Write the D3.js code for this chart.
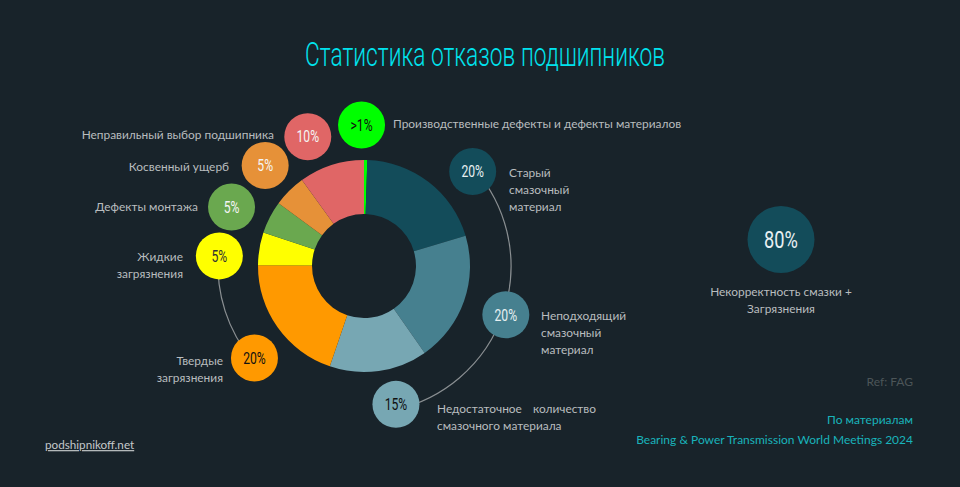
<!DOCTYPE html>
<html><head><meta charset="utf-8">
<script src="https://cdn.jsdelivr.net/npm/d3@7"></script>
<style>
html,body{margin:0;padding:0;background:#18232a;}
svg{display:block;}
</style></head>
<body>
<svg id="chart" width="960" height="487"></svg>
<script>
// ---- data ----
const categories = [
  "Производственные дефекты и дефекты материалов",
  "Старый смазочный материал",
  "Неподходящий смазочный материал",
  "Недостаточное количество смазочного материала",
  "Твердые загрязнения",
  "Жидкие загрязнения",
  "Дефекты монтажа",
  "Косвенный ущерб",
  "Неправильный выбор подшипника"
];
const values = [0.5, 20, 20, 15, 20, 5, 5, 5, 10];
const valueLabels = [">1%", "20%", "20%", "15%", "20%", "5%", "5%", "5%", "10%"];
const totalLabel = "80%";
const totalText = ["Некорректность смазки +", "Загрязнения"];

// ---- styles / layout ----
const colors = ["#00ff00", "#134c5a", "#46808f", "#77a7b3", "#ff9900", "#ffff00", "#6aa84f", "#e69138", "#e06666"];
const bubbleText = ["#111", "#e8f0f2", "#e8f0f2", "#111", "#111", "#333", "#f4f4f4", "#f4f4f4", "#f4f4f4"];
const bubbleAngle = [359, 49, 109, 167, 230, 274, 294, 315.5, 336.5];
const bubbleDist = [141, 144, 150, 142, 143, 145, 145, 141, 141];
// label blocks: [x, y of first line, anchor, lines]
const labelLayout = [
  [393, 124, "start", ["Производственные дефекты и дефекты материалов"]],
  [509, 173, "start", ["Старый", "смазочный", "материал"]],
  [541, 316, "start", ["Неподходящий", "смазочный", "материал"]],
  [437, 409, "start", ["Недостаточное", "смазочного материала"]],
  [223, 361, "end", ["Твердые", "загрязнения"]],
  [183, 257, "end", ["Жидкие", "загрязнения"]],
  [198, 207, "end", ["Дефекты монтажа"]],
  [229, 167, "end", ["Косвенный ущерб"]],
  [274, 135, "end", ["Неправильный выбор подшипника"]]
];

const svg = d3.select("#chart");
const W = 960, H = 487;
const cx = 364, cy = 266;
const labelFont = "Lato, 'Noto Sans', sans-serif";
const labelSize = 11.9;
const labelColor = "#b9bdbf";
const condFont = "Roboto, 'Noto Sans', sans-serif";
const condScale = 0.76;

svg.append("rect").attr("width", W).attr("height", H).attr("fill", "#18232a");

// title
svg.append("text").attr("x", 485).attr("y", 66).attr("text-anchor", "middle")
  .attr("font-family", condFont).attr("font-weight", 300).attr("font-size", 34).attr("fill", "#00e3ee")
  .attr("textLength", 360).attr("lengthAdjust", "spacingAndGlyphs")
  .text("Статистика отказов подшипников");

const g = svg.append("g").attr("transform", `translate(${cx},${cy})`);

const pie = d3.pie().sort(null).value(d => d).startAngle(0).endAngle(2 * Math.PI);
const arcs = pie(values);
const arc = d3.arc().innerRadius(52).outerRadius(106);

g.selectAll("path.slice").data(arcs).enter().append("path")
  .attr("class", "slice").attr("d", arc).attr("fill", (d, i) => colors[i]);

// connector arcs
const rad = a => a * Math.PI / 180;
function ringArc(r, a0, a1) {
  const p = d3.path();
  p.arc(0, 0, r, rad(a0 - 90), rad(a1 - 90), false);
  return p.toString();
}
g.append("path").attr("d", ringArc(147, bubbleAngle[1], bubbleAngle[3]))
  .attr("fill", "none").attr("stroke", "#8a8f92").attr("stroke-width", 1.2);
g.append("path").attr("d", ringArc(146, bubbleAngle[4], bubbleAngle[5]))
  .attr("fill", "none").attr("stroke", "#8a8f92").attr("stroke-width", 1.2);

// bubbles
function condText(parent, x, y, size, fill, txt) {
  parent.append("text")
    .attr("transform", `translate(${x},${y}) scale(${condScale},1)`)
    .attr("dy", "0.36em").attr("text-anchor", "middle")
    .attr("font-family", condFont).attr("font-size", size).attr("fill", fill)
    .text(txt);
}
arcs.forEach((d, i) => {
  const a = rad(bubbleAngle[i]);
  const x = Math.sin(a) * bubbleDist[i], y = -Math.cos(a) * bubbleDist[i];
  g.append("circle").attr("cx", x).attr("cy", y).attr("r", 23.5).attr("fill", colors[i]);
  condText(g, x, y, 16, bubbleText[i], valueLabels[i]);
});

// labels
labelLayout.forEach((L, i) => {
  const t = svg.append("text").attr("x", L[0]).attr("y", L[1]).attr("text-anchor", L[2])
    .attr("font-family", labelFont).attr("font-size", labelSize).attr("fill", labelColor);
  L[3].forEach((line, j) => {
    t.append("tspan").attr("x", L[0]).attr("y", L[1] + j * 17).attr("dy", "0.35em").text(line);
  });
});
// justified second word of the "Недостаточное количество" label
svg.append("text").attr("x", 533).attr("y", 409).attr("dy", "0.35em")
  .attr("font-family", labelFont).attr("font-size", labelSize).attr("fill", labelColor).text("количество");

// total bubble
svg.append("circle").attr("cx", 781).attr("cy", 239.5).attr("r", 33.5).attr("fill", colors[1]);
condText(svg, 781, 239.5, 24, "#e8f0f2", totalLabel);
totalText.forEach((line, j) => {
  svg.append("text").attr("x", 781).attr("y", 292 + j * 16.5).attr("dy", "0.35em").attr("text-anchor", "middle")
    .attr("font-family", labelFont).attr("font-size", labelSize).attr("fill", labelColor).text(line);
});

// footer
svg.append("text").attr("x", 913).attr("y", 382).attr("dy", "0.35em").attr("text-anchor", "end")
  .attr("font-family", labelFont).attr("font-size", 12).attr("fill", "#4c5558").text("Ref: FAG");
svg.append("text").attr("x", 913).attr("y", 420).attr("dy", "0.35em").attr("text-anchor", "end")
  .attr("font-family", labelFont).attr("font-size", 12).attr("fill", "#19b3bb").text("По материалам");
svg.append("text").attr("x", 913).attr("y", 440).attr("dy", "0.35em").attr("text-anchor", "end")
  .attr("font-family", labelFont).attr("font-size", 12).attr("fill", "#19b3bb")
  .text("Bearing & Power Transmission World Meetings 2024");
svg.append("text").attr("x", 45).attr("y", 445).attr("dy", "0.35em")
  .attr("font-family", labelFont).attr("font-size", 11.7).attr("fill", "#c4c8ca")
  .attr("text-decoration", "underline").text("podshipnikoff.net");
</script>
</body></html>
